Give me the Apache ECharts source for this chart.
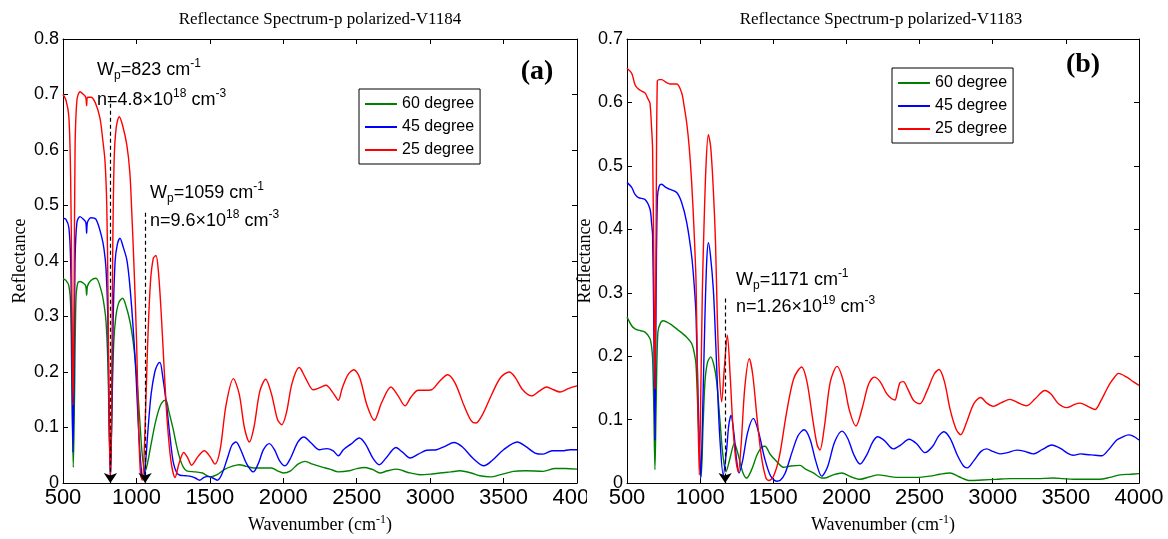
<!DOCTYPE html>
<html><head><meta charset="utf-8">
<script src="https://cdn.jsdelivr.net/npm/echarts@6/dist/echarts.min.js"></script>
<style>html,body{margin:0;padding:0;background:#fff}#c{width:1168px;height:539px}</style>
</head><body><div id="c"></div>
<script>
// ---------- Panel (a) V1184 ----------
const a60x = [500,520,540,552,560,570,578,588,600,616,640,655,661,667,690,725,763,780,793,805,815,823,832,845,860,880,906,930,956,975,990,1008,1024,1040,1058,1075,1100,1130,1160,1185,1201,1220,1251,1275,1297,1320,1342,1400,1450,1501,1550,1603,1650,1700,1750,1800,1850,1921,1960,2000,2050,2100,2148,2200,2260,2318,2375,2450,2500,2556,2610,2659,2710,2772,2850,2931,3000,3066,3140,3203,3280,3340,3407,3480,3566,3650,3770,3850,3920,4000];
const a60y = [0.368,0.365,0.355,0.32,0.18,0.028,0.15,0.33,0.36,0.363,0.36,0.355,0.338,0.355,0.365,0.369,0.344,0.32,0.291,0.22,0.10,0.03,0.12,0.25,0.30,0.325,0.333,0.318,0.291,0.26,0.226,0.17,0.108,0.05,0.02,0.035,0.07,0.11,0.138,0.148,0.149,0.13,0.096,0.065,0.043,0.028,0.022,0.02,0.018,0.011,0.015,0.025,0.03,0.033,0.03,0.027,0.027,0.027,0.022,0.018,0.022,0.034,0.039,0.034,0.029,0.025,0.02,0.022,0.026,0.028,0.024,0.018,0.022,0.025,0.019,0.015,0.016,0.018,0.02,0.022,0.018,0.013,0.011,0.015,0.021,0.022,0.021,0.026,0.026,0.025];

const a45x = [500,520,540,552,560,568,575,582,595,616,640,655,661,667,690,725,763,780,793,805,814,823,832,842,855,870,888,910,934,950,968,985,997,1010,1024,1037,1047,1060,1080,1100,1125,1145,1160,1180,1206,1230,1251,1275,1297,1335,1370,1400,1430,1460,1490,1520,1550,1580,1620,1650,1678,1710,1750,1796,1830,1865,1905,1940,1975,2012,2050,2100,2141,2190,2245,2295,2340,2375,2409,2460,2518,2560,2610,2654,2700,2767,2810,2863,2920,2976,3044,3100,3162,3220,3290,3366,3420,3500,3593,3650,3714,3770,3830,3900,3952,4000];
const a45y = [0.477,0.475,0.46,0.40,0.25,0.055,0.20,0.40,0.47,0.48,0.475,0.47,0.45,0.47,0.478,0.475,0.444,0.42,0.386,0.30,0.12,0.005,0.12,0.30,0.40,0.43,0.441,0.425,0.403,0.37,0.315,0.25,0.196,0.12,0.055,0.015,0.008,0.03,0.10,0.16,0.20,0.214,0.217,0.19,0.138,0.08,0.037,0.018,0.014,0.013,0.012,0.009,0.005,0.01,0.012,0.009,0.005,0.015,0.045,0.068,0.074,0.06,0.035,0.02,0.035,0.06,0.071,0.06,0.04,0.031,0.045,0.074,0.083,0.072,0.06,0.062,0.058,0.049,0.06,0.07,0.081,0.07,0.045,0.033,0.045,0.064,0.056,0.045,0.052,0.059,0.06,0.066,0.073,0.065,0.045,0.031,0.04,0.06,0.074,0.066,0.054,0.052,0.058,0.058,0.06,0.06];

const a25x = [500,520,540,552,560,568,575,582,595,616,640,655,661,667,690,720,752,770,786,798,806,814,822,830,838,848,862,883,905,934,955,968,985,1001,1015,1028,1040,1055,1075,1095,1115,1133,1150,1170,1190,1210,1235,1263,1290,1322,1350,1376,1420,1462,1500,1535,1570,1610,1660,1700,1735,1769,1800,1840,1880,1920,1960,1989,2020,2060,2109,2150,2204,2250,2291,2340,2375,2400,2440,2481,2520,2570,2620,2670,2733,2780,2829,2870,2919,2960,3010,3060,3119,3170,3230,3280,3312,3360,3420,3480,3539,3580,3630,3691,3740,3793,3840,3884,3940,4000];
const a25y = [0.70,0.69,0.66,0.55,0.35,0.14,0.30,0.60,0.69,0.705,0.70,0.695,0.68,0.695,0.695,0.685,0.657,0.62,0.58,0.50,0.35,0.12,0.01,0.10,0.40,0.58,0.64,0.66,0.645,0.61,0.56,0.49,0.38,0.255,0.10,0.015,0.005,0.07,0.24,0.36,0.405,0.41,0.38,0.30,0.20,0.11,0.04,0.01,0.035,0.055,0.045,0.032,0.048,0.058,0.048,0.034,0.06,0.14,0.188,0.16,0.10,0.074,0.10,0.165,0.187,0.16,0.115,0.105,0.125,0.18,0.208,0.19,0.168,0.172,0.176,0.162,0.149,0.17,0.195,0.204,0.19,0.14,0.113,0.145,0.173,0.158,0.139,0.155,0.167,0.167,0.168,0.182,0.195,0.18,0.14,0.112,0.108,0.125,0.16,0.19,0.20,0.19,0.168,0.157,0.165,0.173,0.168,0.164,0.17,0.175];

// ---------- Panel (b) V1183 ----------
const b60x = [500,532,555,578,623,657,668,675,683,691,699,711,730,748,794,851,908,942,960,972,990,1007,1020,1033,1050,1072,1095,1113,1136,1155,1177,1205,1234,1260,1290,1318,1350,1390,1420,1443,1480,1523,1569,1620,1683,1720,1774,1831,1854,1910,1968,2030,2093,2160,2218,2280,2340,2410,2480,2571,2640,2708,2770,2845,2930,3027,3120,3209,3300,3414,3480,3551,3640,3733,3800,3870,3940,4000];
const b60y = [0.262,0.248,0.243,0.241,0.238,0.228,0.215,0.196,0.12,0.021,0.12,0.238,0.253,0.256,0.251,0.241,0.23,0.22,0.205,0.186,0.08,0.01,0.09,0.16,0.19,0.199,0.185,0.16,0.097,0.045,0.018,0.04,0.063,0.045,0.018,0.008,0.02,0.045,0.056,0.058,0.045,0.034,0.025,0.027,0.028,0.022,0.016,0.008,0.008,0.013,0.016,0.01,0.006,0.01,0.013,0.011,0.009,0.009,0.009,0.011,0.014,0.016,0.01,0.004,0.005,0.006,0.007,0.007,0.007,0.008,0.007,0.006,0.006,0.006,0.009,0.013,0.014,0.015];

const b45x = [500,532,555,578,623,657,668,675,683,691,699,708,720,737,765,794,840,874,908,942,960,972,985,1004,1018,1033,1045,1056,1070,1090,1105,1117,1135,1158,1180,1195,1211,1230,1250,1266,1290,1325,1364,1400,1440,1480,1523,1546,1580,1630,1670,1710,1750,1790,1831,1870,1920,1970,2010,2050,2093,2140,2180,2214,2260,2320,2370,2428,2480,2537,2590,2630,2667,2710,2760,2800,2826,2870,2920,2959,3000,3050,3100,3164,3220,3277,3340,3403,3460,3520,3551,3600,3642,3700,3745,3790,3848,3890,3927,3960,4000];
const b45y = [0.474,0.466,0.455,0.45,0.447,0.432,0.41,0.39,0.25,0.068,0.30,0.45,0.468,0.471,0.466,0.463,0.458,0.442,0.411,0.358,0.31,0.264,0.14,0.008,0.12,0.264,0.35,0.379,0.36,0.306,0.23,0.16,0.07,0.013,0.05,0.09,0.107,0.08,0.035,0.016,0.035,0.08,0.102,0.08,0.04,0.012,0.003,0.004,0.015,0.05,0.075,0.084,0.07,0.035,0.011,0.025,0.065,0.082,0.07,0.045,0.03,0.045,0.065,0.073,0.067,0.054,0.06,0.069,0.062,0.048,0.058,0.074,0.081,0.07,0.043,0.027,0.024,0.035,0.05,0.054,0.05,0.046,0.048,0.052,0.05,0.046,0.053,0.06,0.055,0.046,0.044,0.046,0.045,0.044,0.043,0.052,0.068,0.073,0.076,0.074,0.068];

const b25x = [500,532,555,578,600,623,645,657,668,675,683,691,699,707,720,737,765,794,840,874,890,908,925,942,958,972,983,994,1005,1015,1022,1040,1056,1072,1090,1105,1117,1130,1147,1165,1186,1205,1222,1240,1261,1280,1305,1336,1360,1390,1420,1450,1470,1500,1540,1590,1640,1694,1730,1770,1800,1819,1850,1890,1936,1980,2020,2065,2110,2150,2190,2230,2275,2310,2332,2345,2365,2389,2420,2460,2503,2550,2600,2633,2670,2710,2750,2781,2820,2870,2918,2960,3004,3060,3118,3170,3233,3290,3357,3400,3450,3506,3560,3597,3650,3699,3740,3780,3802,3830,3859,3916,3960,4000];
const b25y = [0.654,0.646,0.628,0.621,0.618,0.615,0.605,0.599,0.56,0.526,0.35,0.149,0.40,0.633,0.636,0.636,0.632,0.629,0.629,0.615,0.595,0.568,0.53,0.474,0.40,0.317,0.15,0.013,0.15,0.30,0.369,0.50,0.549,0.53,0.463,0.38,0.264,0.18,0.128,0.18,0.233,0.17,0.097,0.045,0.018,0.06,0.15,0.196,0.17,0.10,0.04,0.008,0.004,0.01,0.04,0.11,0.165,0.183,0.16,0.10,0.06,0.052,0.09,0.16,0.184,0.16,0.115,0.09,0.12,0.155,0.167,0.16,0.141,0.133,0.131,0.14,0.158,0.16,0.148,0.13,0.125,0.145,0.172,0.179,0.16,0.115,0.085,0.076,0.095,0.125,0.135,0.126,0.121,0.127,0.132,0.127,0.122,0.133,0.146,0.14,0.125,0.119,0.124,0.126,0.121,0.116,0.13,0.148,0.157,0.166,0.173,0.167,0.16,0.154];

// ---------- labels & annotations ----------
const seriesNames = ['60 degree','45 degree','25 degree'];
const seriesColors = ['#008000','#0000ff','#ff0000'];
const titles = ['Reflectance Spectrum-p polarized-V1184','Reflectance Spectrum-p polarized-V1183'];
const panelTags = ['(a)','(b)'];
const yMaxA = 0.8, yMaxB = 0.7;
const arrowXA = [823, 1059], arrowTopA = [0.696, 0.487];
const arrowXB = [1171], arrowTopB = [0.291];
const annWp = ['823','1059','1171'];
const annN = [['4.8','18'],['9.6','18'],['1.26','19']];

const pairs = (xs, ys) => xs.map((x, i) => [x, ys[i]]);
const SANS = 'Liberation Sans', SERIF = 'Liberation Serif';

const xName = '{a|Wavenumber (cm}{s|-1}{a|)}';
const xNameStyle = {color:'#000', rich:{a:{fontFamily:SERIF,fontSize:18,lineHeight:22,color:'#000'},s:{fontFamily:SERIF,fontSize:12,lineHeight:14,verticalAlign:'top',color:'#000'}}};

function xAx(grid, pos) {
  const main = pos === 'bottom';
  return {type:'value', gridIndex:grid, position:pos, min:500, max:4000, interval:500,
    axisLine:{onZero:false, lineStyle:{color:'#000', width:1}},
    axisTick:{inside:true, length:5, lineStyle:{color:'#000'}},
    axisLabel:{show:main, fontSize:22, fontFamily:SANS, color:'#000', margin:4, formatter: v => String(v)},
    splitLine:{show:false},
    name: main ? xName : '', nameLocation:'middle', nameGap: grid===0 ? 31 : 28, nameTextStyle:xNameStyle};
}
function yAx(grid, pos, max) {
  const main = pos === 'left';
  return {type:'value', gridIndex:grid, position:pos, min:0, max:max, interval:0.1,
    axisLine:{onZero:false, lineStyle:{color:'#000', width:1}},
    axisTick:{inside:true, length:5, lineStyle:{color:'#000'}},
    axisLabel:{show:main, fontSize:18, fontFamily:SANS, color:'#000', margin:4,
      formatter: v => v === 0 ? '0' : v.toFixed(1)},
    splitLine:{show:false},
    name: main ? 'Reflectance' : '', nameLocation:'middle', nameGap: grid===0 ? 34 : 29,
    nameTextStyle:{fontFamily:SERIF, fontSize:18, color:'#000'}};
}

function lineSeries(name, color, data, xi, yi, markX, markTop) {
  const s = {type:'line', name, data, xAxisIndex:xi, yAxisIndex:yi, symbol:'none', showSymbol:false,
    smooth:0.3, lineStyle:{color, width:1.4}, itemStyle:{color}, animation:false};
  if (markX) {
    s.markLine = {silent:true, symbol:['none','arrow'], symbolSize:10, animation:false,
      label:{show:false}, lineStyle:{color:'#000', type:[4,3], width:1.2},
      data: markX.map((x, i) => [{coord:[x, markTop[i]]}, {coord:[x, 0]}])};
  }
  return s;
}

const supRich = {
  n:{fontFamily:SANS, fontSize:18, lineHeight:24, color:'#000'},
  sup:{fontFamily:SANS, fontSize:12, lineHeight:16, verticalAlign:'top', color:'#000'},
  sub:{fontFamily:SANS, fontSize:12, lineHeight:6, verticalAlign:'bottom', color:'#000'}
};
function annText(left, top, txt) {
  return {type:'text', left, top, z:50, style:{text:txt, rich:supRich, fill:'#000'}};
}
const wpTxt = w => '{n|W}{sub|p}{n|=' + w + ' cm}{sup|-1}';
const nTxt = a => '{n|n=' + a[0] + '×10}{sup|' + a[1] + '}{n| cm}{sup|-3}';

const legendData = seriesNames.map(n => ({name:n, icon:'rect'}));
function legendAt(left, top) {
  return {left, top, orient:'vertical', data:legendData, itemWidth:32, itemHeight:2, itemGap:7,
    borderColor:'#000', borderWidth:1, padding:[7,6,6,6], selectedMode:false, backgroundColor:'#fff',
    textStyle:{fontFamily:SANS, fontSize:16, color:'#000', lineHeight:16}};
}

const chart = echarts.init(document.getElementById('c'), null, {renderer:'canvas'});
chart.setOption({
  backgroundColor:'#fff',
  animation:false,
  grid:[
    {left:63, top:39, width:514, height:452},
    {left:627, top:39, width:512, height:446}
  ],
  xAxis:[xAx(0,'bottom'), xAx(0,'top'), xAx(1,'bottom'), xAx(1,'top')],
  yAxis:[yAx(0,'left',yMaxA), yAx(0,'right',yMaxA), yAx(1,'left',yMaxB), yAx(1,'right',yMaxB)],
  legend:[legendAt(359, 89), legendAt(892, 68)],
  series:[
    lineSeries(seriesNames[0], seriesColors[0], pairs(a60x,a60y), 0, 0),
    lineSeries(seriesNames[1], seriesColors[1], pairs(a45x,a45y), 0, 0),
    lineSeries(seriesNames[2], seriesColors[2], pairs(a25x,a25y), 0, 0, arrowXA, arrowTopA),
    lineSeries(seriesNames[0], seriesColors[0], pairs(b60x,b60y), 2, 2),
    lineSeries(seriesNames[1], seriesColors[1], pairs(b45x,b45y), 2, 2),
    lineSeries(seriesNames[2], seriesColors[2], pairs(b25x,b25y), 2, 2, arrowXB, arrowTopB)
  ],
  graphic:[
    {type:'text', x:320, y:11, z:50, style:{text:titles[0], fill:'#000', font:'17px "Liberation Serif"', textAlign:'center'}},
    {type:'text', x:881, y:11, z:50, style:{text:titles[1], fill:'#000', font:'17px "Liberation Serif"', textAlign:'center'}},
    {type:'text', x:537, y:58, z:50, style:{text:panelTags[0], fill:'#000', font:'bold 28px "Liberation Serif"', textAlign:'center'}},
    {type:'text', x:1083, y:51, z:50, style:{text:panelTags[1], fill:'#000', font:'bold 28px "Liberation Serif"', textAlign:'center'}},
    annText(97, 58, wpTxt(annWp[0])),
    annText(97, 88, nTxt(annN[0])),
    annText(150, 181, wpTxt(annWp[1])),
    annText(150, 209, nTxt(annN[1])),
    annText(736, 268, wpTxt(annWp[2])),
    annText(736, 295, nTxt(annN[2])),
    {type:'rect', z:100, shape:{x:587, y:486, width:21, height:32}, style:{fill:'#fff'}}
  ]
});
</script></body></html>
